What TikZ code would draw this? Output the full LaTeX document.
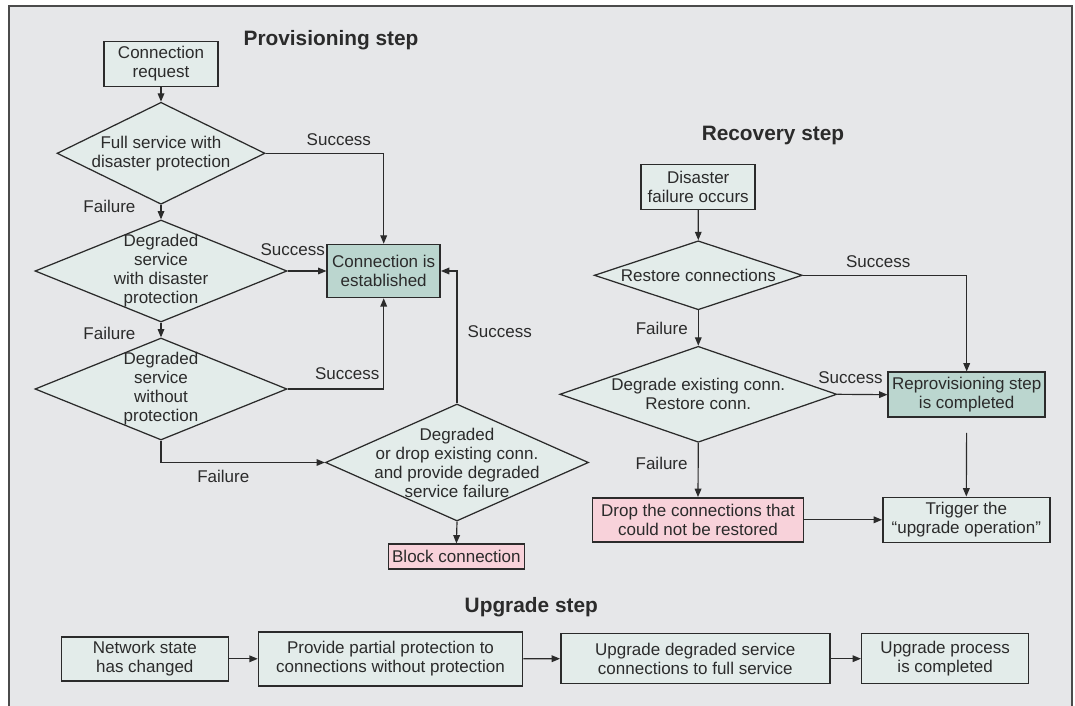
\documentclass[tikz,border=0pt]{standalone}
\usepackage{fontspec}
\setmainfont{Liberation Sans}
\usepackage{tikz}
\usetikzlibrary{shapes.geometric, arrows.meta, positioning}
\usepackage{xcolor}
\definecolor{bgc}{HTML}{E6E7E9}
\definecolor{boxfill}{HTML}{E3ECEA}
\definecolor{okfill}{HTML}{BBD6CF}
\definecolor{badfill}{HTML}{F8D2DA}
\definecolor{linec}{HTML}{2B2B2B}
\newlength\pxu
\setlength\pxu{0.6pt}

\begin{document}
\begin{tikzpicture}[x=0.6pt, y=-0.6pt,
        txt/.style={font={\fontsize{10.2}{11.4}\selectfont}, text=linec, align=center},
        box/.style={txt, draw=linec, line width=0.9pt, fill=boxfill, inner sep=0pt},
        ok/.style={box, fill=okfill},
        bad/.style={box, fill=badfill},
        choice/.style={diamond, draw=linec, line width=0.75pt, fill=boxfill, inner sep=0pt},
        title/.style={font={\fontsize{12.5}{14}\selectfont\bfseries}, text=linec},
        lbl/.style={txt, inner sep=1pt},
        arr/.style={-{Triangle[length=5pt, width=4pt]}, line width=0.7pt, draw=linec}]
        \useasboundingbox (0,0) rectangle (1075,706);
        % frame
        \fill[bgc] (9,6) rectangle (1072,706);
        \draw[linec!85, line width=1pt] (9,706) -- (9,6) -- (1072,6) -- (1072,706);

        % provisioning step
        \node[title] (tprov) at (331,40) {Provisioning step};
        \node[box, minimum width=114\pxu, minimum height=45\pxu] (req) at (161,64) {Connection\\request};
        \node[choice, minimum width=208\pxu, minimum height=102\pxu,
              label={[txt]center:Full service with\\disaster protection}] (full) at (161,153.3) {};
        \node[choice, minimum width=252\pxu, minimum height=102\pxu,
              label={[txt]center:Degraded\\service\\with disaster\\protection}] (degr) at (161,271) {};
        \node[choice, minimum width=252\pxu, minimum height=102\pxu,
              label={[txt]center:Degraded\\service\\without\\protection}] (noprot) at (161,389) {};
        \node[ok, minimum width=113\pxu, minimum height=53\pxu] (est) at (383.7,271) {Connection is\\established};
        \node[choice, minimum width=263\pxu, minimum height=117\pxu,
              label={[txt]center:Degraded\\or drop existing conn.\\and provide degraded\\service failure}] (dropx) at (457,462.5) {};
        \node[bad, minimum width=136\pxu, minimum height=25\pxu] (block) at (456.4,556.7) {Block connection};

        % recovery step
        \node[title] (trec) at (773,135) {Recovery step};
        \node[box, minimum width=114\pxu, minimum height=45\pxu] (dis) at (698.2,186.8) {Disaster\\failure occurs};
        \node[choice, minimum width=208\pxu, minimum height=69\pxu,
              label={[txt]center:Restore connections}] (rest) at (698.3,275.3) {};
        \node[choice, minimum width=277\pxu, minimum height=96\pxu,
              label={[txt]center:Degrade existing conn.\\Restore conn.}] (dgx) at (698.3,394.3) {};
        \node[ok, minimum width=157\pxu, minimum height=45\pxu] (reprov) at (966.7,394.7) {Reprovisioning step\\is completed};
        \node[bad, minimum width=211\pxu, minimum height=44\pxu] (dropc) at (698,519.8) {Drop the connections that\\could not be restored};
        \node[box, minimum width=167\pxu, minimum height=45\pxu] (trig) at (966.3,519.8) {Trigger the\\“upgrade operation”};

        % upgrade step
        \node[title] (tupg) at (531.3,607) {Upgrade step};
        \node[box, minimum width=167\pxu, minimum height=44\pxu] (net) at (144.8,658.8) {Network state\\has changed};
        \node[box, minimum width=264\pxu, minimum height=54\pxu] (prot) at (390.5,658.8) {Provide partial protection to\\connections without protection};
        \node[box, minimum width=269\pxu, minimum height=50\pxu] (upd) at (695.3,658.7) {Upgrade degraded service\\connections to full service};
        \node[box, minimum width=167\pxu, minimum height=50\pxu] (done) at (945.2,658.7) {Upgrade process\\is completed};

        % connectors
        \draw[arr] (req.south) -- (full.north);
        \draw[arr] (full.east) -| node[lbl, pos=0.31, above=3.2pt] {Success} (est.north);
        \draw[arr] (full.south) -- node[lbl, pos=0.1, left=14pt] {Failure} (degr.north);
        \draw[arr] (degr.east) -- node[lbl, pos=0.13, above=8pt] {Success} (est.west);
        \draw[arr] (degr.south) -- node[lbl, pos=0.75, left=14pt] {Failure} (noprot.north);
        \draw[arr] (noprot.east) -| node[lbl, pos=0.31, above=4.4pt] {Success} (est.south);
        \draw[arr] (noprot.south) |- node[lbl, pos=0.69, below=3.3pt] {Failure} (dropx.west);
        \draw[arr] (dropx.north) |- node[lbl, pos=0.27, right=5pt] {Success} (est.east);
        \draw[arr] (dropx.south) -- (block.north);

        \draw[arr] (dis.south) -- (rest.north);
        \draw[arr] (rest.east) -| node[lbl, pos=0.23, above=3.2pt] {Success} (reprov.north);
        \draw[arr] (rest.south) -- node[lbl, pos=0.5, left=5pt] {Failure} (dgx.north);
        \draw[arr] (dgx.east) -- node[lbl, pos=0.26, above=5pt] {Success} (reprov.west);
        \draw[arr] (dgx.south) -- node[lbl, pos=0.37, left=5pt] {Failure} (dropc.north);
        \draw[arr, shorten <=9pt] (reprov.south) -- (trig.north);
        \draw[arr] (dropc.east) -- (trig.west);

        \draw[arr] (net.east) -- (prot.west);
        \draw[arr] (prot.east) -- (upd.west);
        \draw[arr] (upd.east) -- (done.west);
\end{tikzpicture}
\end{document}
